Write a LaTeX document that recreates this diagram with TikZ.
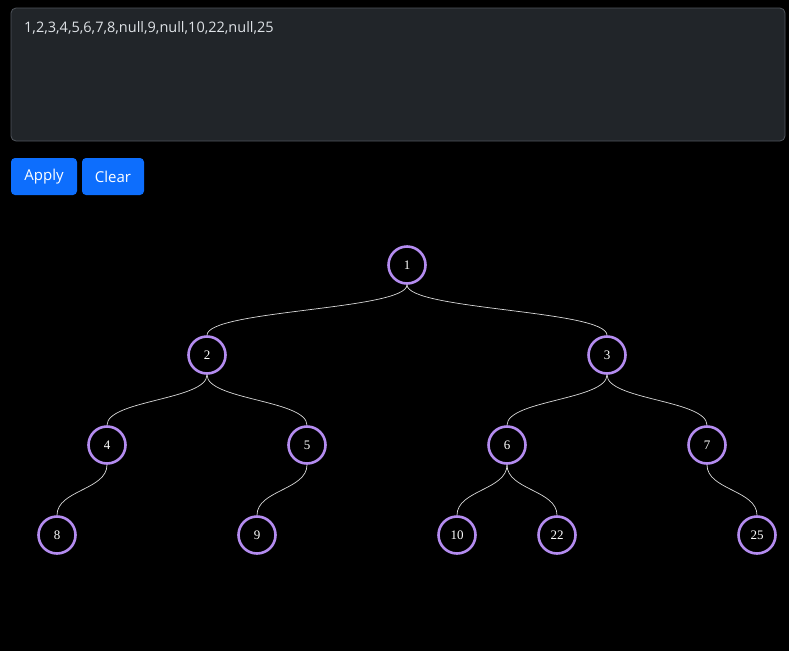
\documentclass[tikz,border=0pt]{standalone}
\usepackage{fontspec}
\usetikzlibrary{calc}
\setmainfont{Liberation Serif}
\newfontfamily\uifont{Open Sans}
\begin{document}
\begin{tikzpicture}[x=1pt,y=-1pt,
  tn/.style={circle,draw={rgb,255:red,180;green,140;blue,240},line width=2.6pt,minimum size=37pt,inner sep=0pt,text=white,font=\fontsize{13}{13}\selectfont},
  ed/.style={draw=white!85!black,line width=0.7pt},
  btn/.style={fill={rgb,255:red,13;green,110;blue,253},rounded corners=4pt}]
\useasboundingbox[fill=black] (0,0) rectangle (789,651);
\draw[fill={rgb,255:red,33;green,37;blue,41},draw={rgb,255:red,80;green,85;blue,92},rounded corners=5pt,line width=0.8pt] (11,8) rectangle (785,141);
\node[anchor=west,text={rgb,255:red,222;green,226;blue,230},font=\uifont\fontsize{14.5}{15}\selectfont,inner sep=0] (ta) at (24,28) {1,2,3,4,5,6,7,8,null,9,null,10,22,null,25};
\path[btn] (11,158) rectangle (77,195);
\node[text=white,font=\uifont\fontsize{15}{15}\selectfont] (apply) at (44,177) {Apply};
\path[btn] (82,158) rectangle (144,195);
\node[text=white,font=\uifont\fontsize{15}{15}\selectfont] (clear) at (113,177) {Clear};
\foreach \n/\x/\y in {1/407/265,2/207/355,3/607/355,4/107/445,5/307/445,6/507/445,7/707/445,8/57/535,9/257/535,10/457/535,22/557/535,25/757/535}
  \node[tn] (n\n) at (\x,\y) {\n};
\foreach \ua/\ub in {1/2,1/3,2/4,2/5,3/6,3/7,4/8,5/9,6/10,6/22,7/25}{
  \path[ed] let \p1=(n\ua.south), \p2=(n\ub.north) in (\p1) .. controls (\x1,{(\y1+\y2)/2}) and (\x2,{(\y1+\y2)/2}) .. (\p2);
}
\end{tikzpicture}
\end{document}
